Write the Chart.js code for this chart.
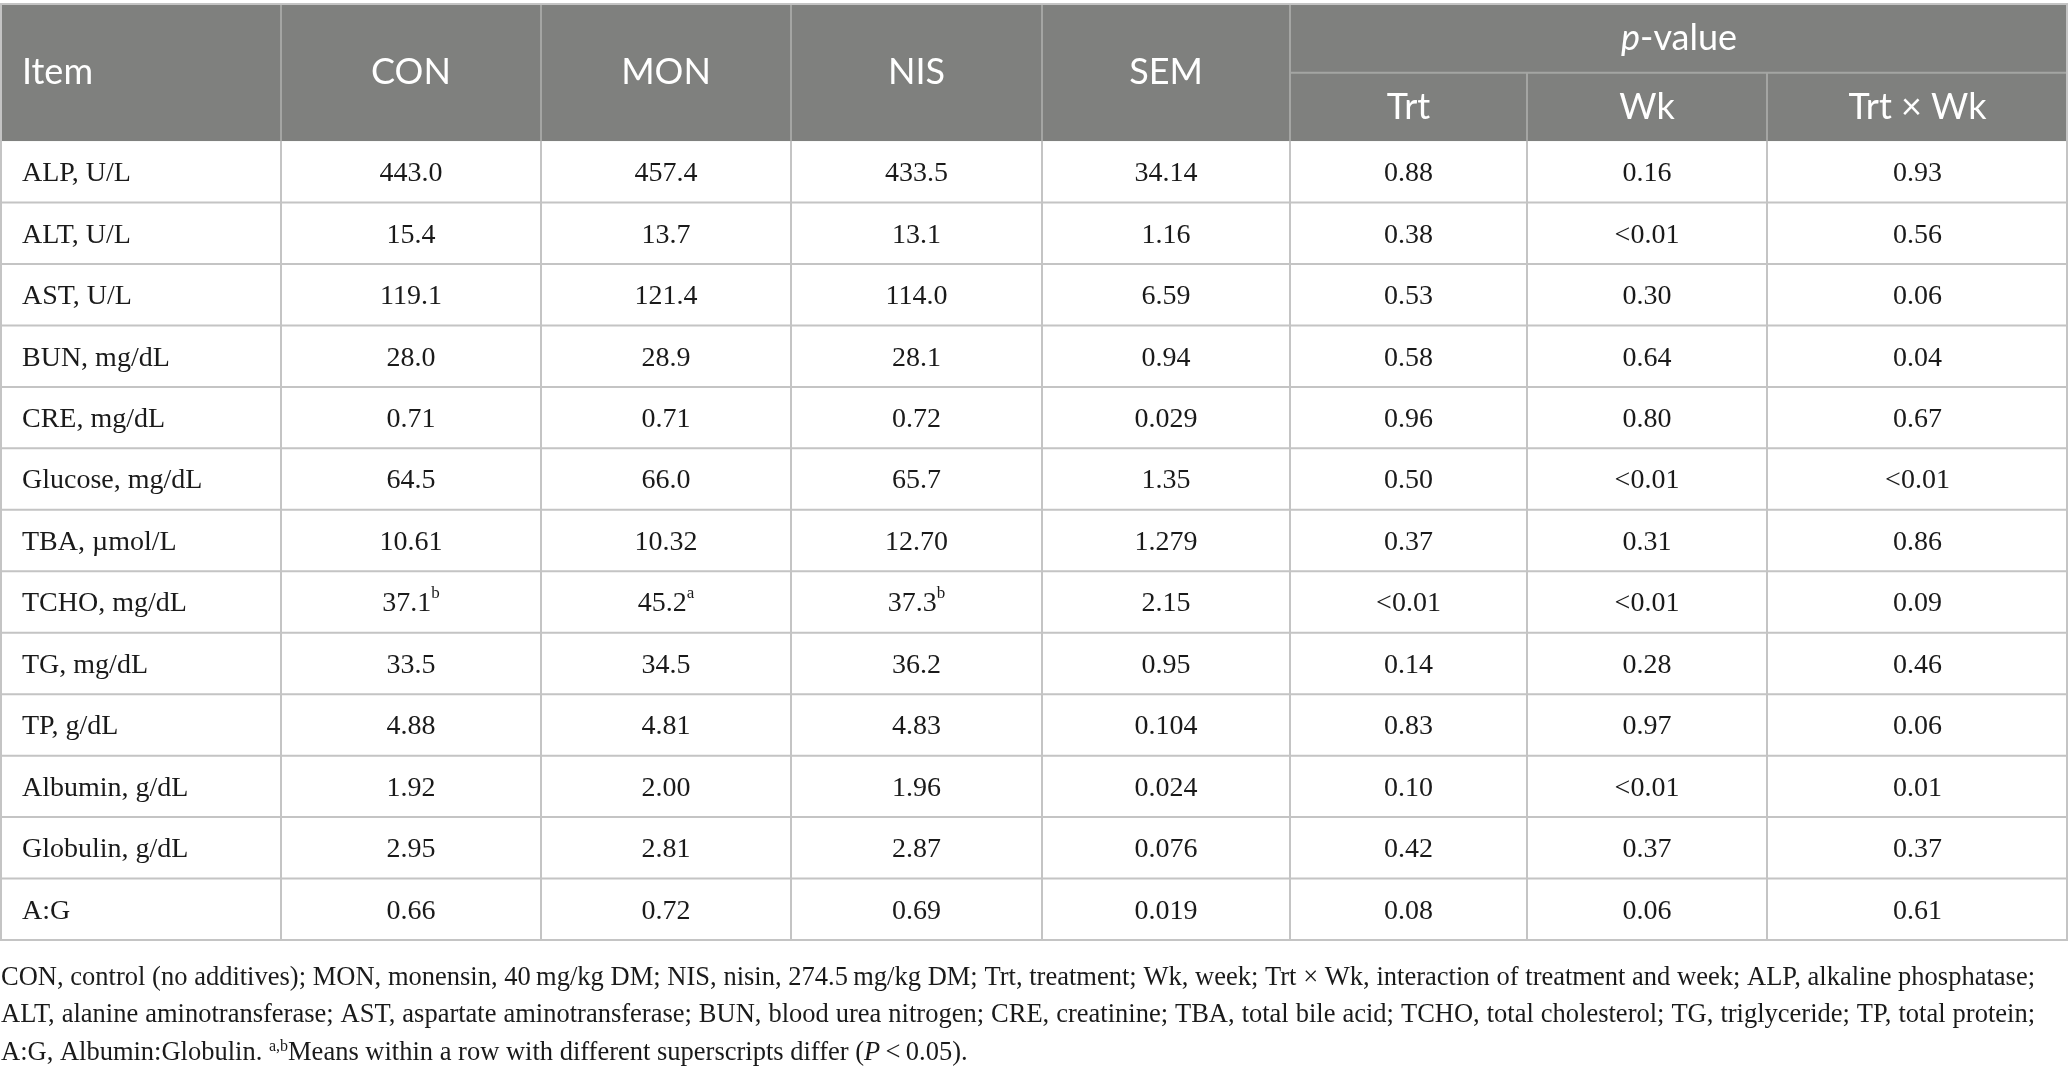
<!DOCTYPE html>
<html>
<head>
<meta charset="utf-8">
<script src="https://cdn.jsdelivr.net/npm/chart.js@4"></script>
<style>
  html, body { margin: 0; padding: 0; background: #fff; }
  #wrap { width: 2068px; height: 1067px; position: relative; }
</style>
</head>
<body>
<div id="wrap"><canvas id="tableChart"></canvas></div>
<script>
// table content (a "^x" suffix marks a superscript letter)
const items = ['ALP, U/L', 'ALT, U/L', 'AST, U/L', 'BUN, mg/dL', 'CRE, mg/dL', 'Glucose, mg/dL', 'TBA, µmol/L',
  'TCHO, mg/dL', 'TG, mg/dL', 'TP, g/dL', 'Albumin, g/dL', 'Globulin, g/dL', 'A:G'];
const con = ['443.0', '15.4', '119.1', '28.0', '0.71', '64.5', '10.61', '37.1^b', '33.5', '4.88', '1.92', '2.95', '0.66'];
const mon = ['457.4', '13.7', '121.4', '28.9', '0.71', '66.0', '10.32', '45.2^a', '34.5', '4.81', '2.00', '2.81', '0.72'];
const nis = ['433.5', '13.1', '114.0', '28.1', '0.72', '65.7', '12.70', '37.3^b', '36.2', '4.83', '1.96', '2.87', '0.69'];
const sem = ['34.14', '1.16', '6.59', '0.94', '0.029', '1.35', '1.279', '2.15', '0.95', '0.104', '0.024', '0.076', '0.019'];
const pTrt = ['0.88', '0.38', '0.53', '0.58', '0.96', '0.50', '0.37', '<0.01', '0.14', '0.83', '0.10', '0.42', '0.08'];
const pWk = ['0.16', '<0.01', '0.30', '0.64', '0.80', '<0.01', '0.31', '<0.01', '0.28', '0.97', '<0.01', '0.37', '0.06'];
const pTrtWk = ['0.93', '0.56', '0.06', '0.04', '0.67', '<0.01', '0.86', '0.09', '0.46', '0.06', '0.01', '0.37', '0.61'];

const mainHeaders = ['Item', 'CON', 'MON', 'NIS', 'SEM'];
const pHeaders = ['Trt', 'Wk', 'Trt × Wk'];

const footnotes = [
  [['CON, control (no additives); MON, monensin, 40\u2009mg/kg DM; NIS, nisin, 274.5\u2009mg/kg DM; Trt, treatment; Wk, week; Trt × Wk, interaction of treatment and week; ALP, alkaline phosphatase;', '']],
  [['ALT, alanine aminotransferase; AST, aspartate aminotransferase; BUN, blood urea nitrogen; CRE, creatinine; TBA, total bile acid; TCHO, total cholesterol; TG, triglyceride; TP, total protein;', '']],
  [['A:G, Albumin:Globulin. ', ''], ['a,b', 'sup'], ['Means within a row with different superscripts differ (', ''], ['P', 'i'], ['\u2009<\u20090.05).', '']]
];
const justified = [true, true, false];

// layout (x in px units of the table, y in row units)
const colEdges = [0, 281, 541, 791, 1042, 1290, 1527, 1767, 2068];
const headTop = -2.23, headMid = -1.11;
const itemPad = 22;
const justifyWidth = 2034;
const headBg = '#7f807e', headLine = '#a4a5a3', gridLine = '#c4c4c4';
const serif = '"Liberation Serif", "Times New Roman", serif';
const sans = 'Lato, "Open Sans", sans-serif';
const headSize = 36, bodySize = 28, noteSize = 26.5;

const columns = [items, con, mon, nis, sem, pTrt, pWk, pTrtWk];
const datasets = columns.map((col, c) => ({
  label: c === 0 ? 'Item' : (c < 5 ? mainHeaders[c] : pHeaders[c - 5]),
  data: col.map((v, r) => ({
    x: c === 0 ? colEdges[0] + itemPad : (colEdges[c] + colEdges[c + 1]) / 2,
    y: r + 0.5,
    text: v
  })),
  pointRadius: 0,
  align: c === 0 ? 'left' : 'center'
}));

function drawRich(ctx, parts, x, y, size, align) {
  const fontFor = kind => kind === 'sup' ? (Math.round(size * 0.6) + 'px ' + serif)
    : (kind === 'i' ? 'italic ' : '') + size + 'px ' + serif;
  let total = 0;
  parts.forEach(p => { ctx.font = fontFor(p[1]); total += ctx.measureText(p[0]).width; });
  let cx = align === 'center' ? x - total / 2 : x;
  ctx.textAlign = 'left';
  parts.forEach(p => {
    ctx.font = fontFor(p[1]);
    ctx.fillText(p[0], cx, p[1] === 'sup' ? y - size * 0.36 : y);
    cx += ctx.measureText(p[0]).width;
  });
}

function drawJustified(ctx, text, x, y, size, width) {
  ctx.font = size + 'px ' + serif;
  ctx.textAlign = 'left';
  const words = text.split(' ');
  const natural = words.reduce((s, w) => s + ctx.measureText(w).width, 0);
  const gap = (width - natural) / (words.length - 1);
  let cx = x;
  words.forEach(w => {
    ctx.fillText(w, cx, y);
    cx += ctx.measureText(w).width + gap;
  });
}

const tablePlugin = {
  id: 'tablePlugin',
  beforeDatasetsDraw(chart) {
    const { ctx, scales: { x, y } } = chart;
    const X = v => x.getPixelForValue(v), Y = v => y.getPixelForValue(v);
    const left = X(colEdges[0]), right = X(colEdges[colEdges.length - 1]);
    ctx.save();
    // header block
    ctx.fillStyle = headBg;
    ctx.fillRect(left, Y(headTop), right - left, Y(0) - Y(headTop));
    ctx.strokeStyle = headLine;
    ctx.lineWidth = 2;
    ctx.beginPath();
    for (let c = 1; c < colEdges.length - 1; c++) {
      const top = c > 5 ? headMid : headTop;
      ctx.moveTo(X(colEdges[c]), Y(top));
      ctx.lineTo(X(colEdges[c]), Y(0));
    }
    ctx.moveTo(X(colEdges[5]), Y(headMid));
    ctx.lineTo(right, Y(headMid));
    ctx.stroke();
    // body grid
    ctx.strokeStyle = gridLine;
    ctx.beginPath();
    for (let r = 1; r < items.length; r++) {
      ctx.moveTo(left, Y(r)); ctx.lineTo(right, Y(r));
    }
    for (let c = 1; c < colEdges.length - 1; c++) {
      ctx.moveTo(X(colEdges[c]), Y(0)); ctx.lineTo(X(colEdges[c]), Y(items.length));
    }
    ctx.stroke();
    ctx.strokeRect(left + 1, Y(headTop), right - left - 2, Y(items.length) - Y(headTop));
    ctx.restore();
  },
  afterDatasetsDraw(chart) {
    const { ctx, scales: { x, y } } = chart;
    const X = v => x.getPixelForValue(v), Y = v => y.getPixelForValue(v);
    ctx.save();
    ctx.textBaseline = 'middle';
    // header labels
    ctx.fillStyle = '#ffffff';
    ctx.font = headSize + 'px ' + sans;
    const headY = Y(headTop / 2);
    mainHeaders.forEach((h, c) => {
      ctx.textAlign = c === 0 ? 'left' : 'center';
      const px = c === 0 ? X(colEdges[0] + itemPad) : X((colEdges[c] + colEdges[c + 1]) / 2);
      ctx.fillText(h, px, headY);
    });
    pHeaders.forEach((h, i) => {
      ctx.textAlign = 'center';
      ctx.fillText(h, X((colEdges[5 + i] + colEdges[6 + i]) / 2), Y(headMid / 2));
    });
    // "p-value" group label
    ctx.font = 'italic ' + headSize + 'px ' + sans;
    const pW = ctx.measureText('p').width;
    ctx.font = headSize + 'px ' + sans;
    const vW = ctx.measureText('-value').width;
    const gx = X((colEdges[5] + colEdges[8]) / 2) - (pW + vW) / 2, gy = Y((headTop + headMid) / 2);
    ctx.textAlign = 'left';
    ctx.font = 'italic ' + headSize + 'px ' + sans;
    ctx.fillText('p', gx, gy);
    ctx.font = headSize + 'px ' + sans;
    ctx.fillText('-value', gx + pW, gy);
    // body cells from dataset points
    ctx.fillStyle = '#1a1a1a';
    chart.data.datasets.forEach((ds, i) => {
      chart.getDatasetMeta(i).data.forEach((pt, r) => {
        const parts = ds.data[r].text.split('^');
        const rich = [[parts[0], '']];
        if (parts[1]) rich.push([parts[1], 'sup']);
        drawRich(ctx, rich, pt.x, pt.y + 2, bodySize, ds.align);
      });
    });
    // footnotes
    ctx.textBaseline = 'alphabetic';
    footnotes.forEach((line, i) => {
      const fy = Y(items.length + 0.73 + i * 0.612), fx = X(colEdges[0]) + 1;
      if (justified[i]) drawJustified(ctx, line[0][0], fx, fy, noteSize, justifyWidth);
      else drawRich(ctx, line, fx, fy, noteSize, 'left');
    });
    ctx.restore();
  }
};

new Chart(document.getElementById('tableChart'), {
  type: 'scatter',
  data: { datasets: datasets },
  options: {
    responsive: true,
    maintainAspectRatio: false,
    animation: false,
    events: [],
    layout: { padding: { top: 4, bottom: 127, left: 0, right: 0 } },
    scales: {
      x: { type: 'linear', display: false, min: colEdges[0], max: colEdges[colEdges.length - 1] },
      y: { type: 'linear', display: false, reverse: true, min: headTop, max: items.length }
    },
    plugins: { legend: { display: false }, tooltip: { enabled: false } }
  },
  plugins: [tablePlugin]
});
</script>
</body>
</html>
